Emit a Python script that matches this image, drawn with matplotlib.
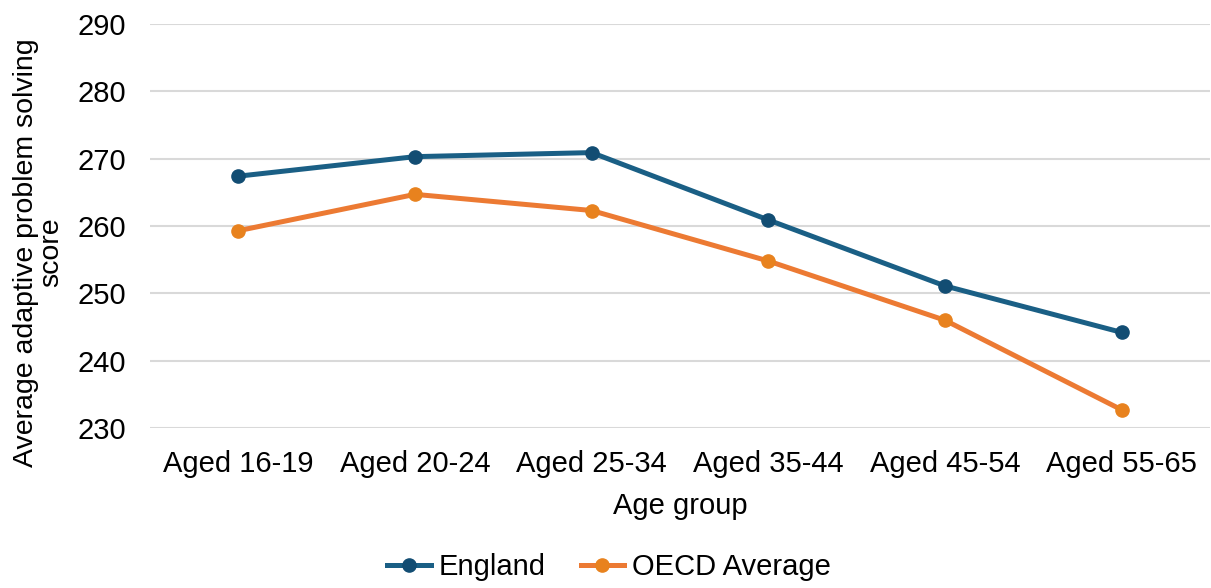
import matplotlib.pyplot as plt

plt.rcParams['font.family'] = ['Liberation Sans', 'DejaVu Sans']

# Average adaptive problem solving score by age group
age_groups = ['Aged 16-19', 'Aged 20-24', 'Aged 25-34', 'Aged 35-44', 'Aged 45-54', 'Aged 55-65']
england = [267.4, 270.3, 270.9, 260.9, 251.1, 244.2]
oecd = [259.3, 264.7, 262.3, 254.8, 246.0, 232.7]
y_ticks = [230, 240, 250, 260, 270, 280, 290]

fs = 21

fig = plt.figure(figsize=(12.11, 5.88), dpi=100)
ax = fig.add_axes([150 / 1211, 1 - 428 / 588, 1060 / 1211, 404 / 588])

x = range(len(age_groups))
ax.plot(x, england, color='#1A5F85', linewidth=3.6, marker='o', markersize=9.5,
        markerfacecolor='#124D73', markeredgecolor='#124D73', label='England', zorder=3)
ax.plot(x, oecd, color='#EC7A33', linewidth=3.6, marker='o', markersize=9.5,
        markerfacecolor='#E8821E', markeredgecolor='#E8821E', label='OECD Average', zorder=3)

ax.set_xlim(-0.5, len(age_groups) - 0.5)
ax.set_ylim(230, 290)
ax.set_yticks(y_ticks)
ax.set_xticks(list(x))
ax.set_xticklabels(age_groups)
ax.tick_params(axis='both', length=0, labelsize=fs, colors='black')
ax.tick_params(axis='y', pad=17)
ax.tick_params(axis='x', pad=16)

ax.grid(axis='y', color='#D9D9D9', linewidth=1.5)
ax.set_axisbelow(True)
for s in ax.spines.values():
    s.set_visible(False)

ax.set_xlabel('Age group', fontsize=fs, labelpad=10)
ax.set_ylabel('Average adaptive problem solving\nscore', fontsize=20.5, linespacing=0.95)
ax.yaxis.set_label_coords(-0.081, 0.435)

ax.legend(loc='center', bbox_to_anchor=(0.433, -0.345), ncol=2, frameon=False,
          fontsize=fs, handlelength=1.5, columnspacing=1.2, handletextpad=0.27)

fig.savefig('out.png', dpi=100)
